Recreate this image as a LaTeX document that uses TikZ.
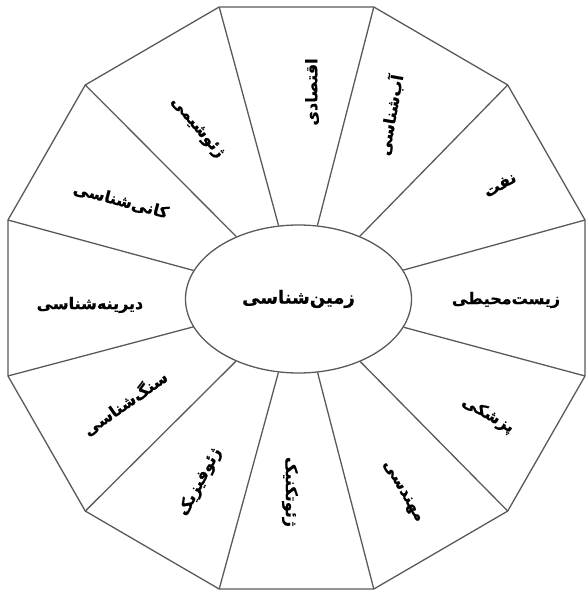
\documentclass[tikz,border=0pt]{standalone}
\usepackage{fontspec}
\usetikzlibrary{shapes.geometric}
\newfontfamily\fa[Script=Arabic, BoldFeatures={FakeBold=0.6}]{DejaVu Sans}
\TeXXeTstate=1
\tikzset{
  edge/.style={draw=black!65, line width=1.3pt},
  lab/.style={font=\fa\bfseries\fontsize{16}{16}\selectfont, inner sep=0pt},
  hub/.style={ellipse, edge, minimum width=226pt, minimum height=148pt, inner sep=0pt,
     font=\fa\bfseries\fontsize{18}{18}\selectfont}
}
\begin{document}
\begin{tikzpicture}[x=1pt,y=1pt]
\useasboundingbox (-296.5,-294) rectangle (290.5,298);
\foreach \k in {0,...,11} {
  \coordinate (v\k) at ({298.7*cos(15+30*\k)},{301.3*sin(15+30*\k)});
}
\draw[edge] (v0) -- (v1) -- (v2) -- (v3) -- (v4) -- (v5) -- (v6) -- (v7) -- (v8) -- (v9) -- (v10) -- (v11) -- cycle;
\node[hub] (c) at (2,-1) {\beginR زمین^^^^200cشناسی\endR};
\foreach \k in {0,...,11} { \draw[edge] (c) -- (v\k); }
\node[lab, rotate=90]  (l90)  at (15.5,206)   {\beginR اقتصادی\endR};
\node[lab, rotate=80]  (l60)  at (93.5,183)   {\beginR آب^^^^200cشناسی\endR};
\node[lab, rotate=30]  (l30)  at (203.5,113)  {\beginR نفت\endR};
\node[lab]             (l0)   at (209.5,-2)   {\beginR زیست^^^^200cمحیطی\endR};
\node[lab, rotate=-30] (lm30) at (191.5,-117) {\beginR پزشکی\endR};
\node[lab, rotate=-60] (lm60) at (105.5,-194) {\beginR مهندسی\endR};
\node[lab, rotate=-90] (lm90) at (-6.5,-194)  {\beginR ژئوتکنیک\endR};
\node[lab, rotate=62]  (lm120) at (-96.5,-184) {\beginR ژئوفیزیک\endR};
\node[lab, rotate=35]  (lm150) at (-171.5,-105) {\beginR سنگ^^^^200cشناسی\endR};
\node[lab]             (l180) at (-206.5,-7)  {\beginR دیرینه^^^^200cشناسی\endR};
\node[lab, rotate=-15] (l150) at (-175.5,97)  {\beginR کانی^^^^200cشناسی\endR};
\node[lab, rotate=-50] (l120) at (-99.5,170)  {\beginR ژئوشیمی\endR};
\end{tikzpicture}
\end{document}
